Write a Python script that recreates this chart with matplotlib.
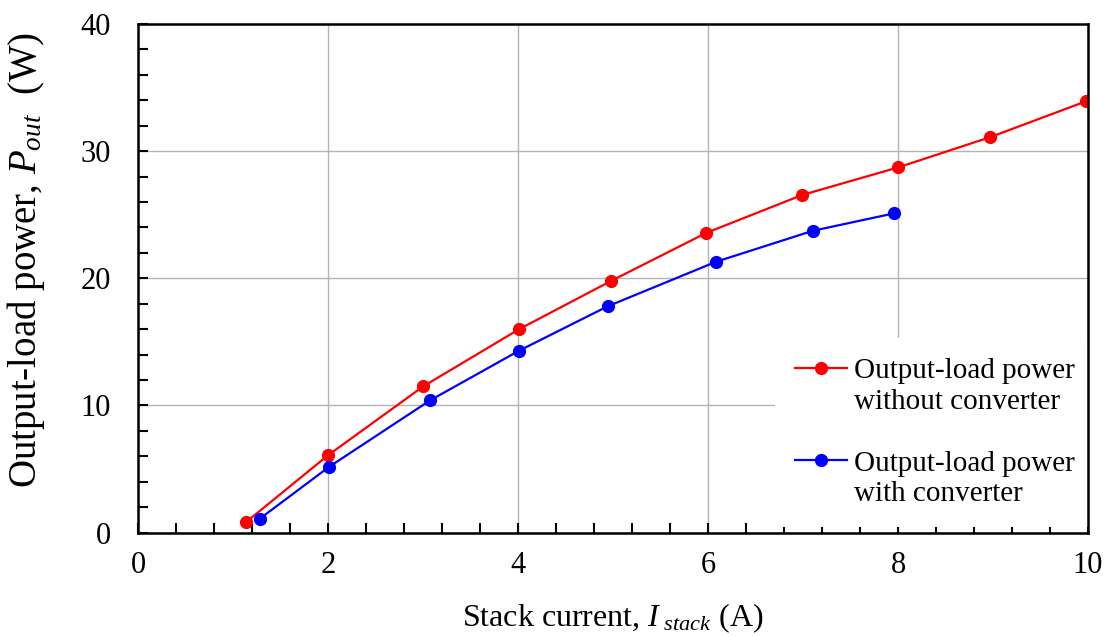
import matplotlib
matplotlib.use("Agg")
import matplotlib.pyplot as plt
from matplotlib.ticker import MultipleLocator
from matplotlib.lines import Line2D

plt.rcParams['font.family'] = ['Liberation Serif', 'DejaVu Serif']
plt.rcParams['mathtext.fontset'] = 'custom'
plt.rcParams['mathtext.rm'] = 'Liberation Serif'
plt.rcParams['mathtext.it'] = 'Liberation Serif:italic'

# Data
i_without = [1.13, 2.0, 3.0, 4.01, 4.98, 5.98, 6.99, 8.0, 8.97, 9.98]
p_without = [0.8, 6.1, 11.5, 16.0, 19.8, 23.57, 26.55, 28.72, 31.1, 33.92]
i_with = [1.28, 2.01, 3.07, 4.01, 4.94, 6.08, 7.10, 7.96]
p_with = [1.1, 5.18, 10.39, 14.31, 17.79, 21.29, 23.73, 25.11]

label_without = ["Output-load power", "without converter"]
label_with = ["Output-load power", "with converter"]

red = '#ff0000'
blue = '#0000ff'

fig = plt.figure(figsize=(11.07, 6.37), dpi=100)
ax = fig.add_axes([0.1251, 0.164, 0.8577, 0.7983])

l1, = ax.plot(i_without, p_without, color=red, lw=1.6, marker='o', ms=8.5, zorder=3)
l2, = ax.plot(i_with, p_with, color=blue, lw=1.6, marker='o', ms=8.5, zorder=3)

ax.set_xlim(0, 10)
ax.set_ylim(0, 40)
ax.xaxis.set_major_locator(MultipleLocator(2))
ax.xaxis.set_minor_locator(MultipleLocator(0.4))
ax.yaxis.set_major_locator(MultipleLocator(10))
ax.yaxis.set_minor_locator(MultipleLocator(2))
ax.grid(True, which='major', color='#b4b4b4', lw=1.0, zorder=0)
ax.set_axisbelow(True)

ax.tick_params(which='both', direction='in', top=False, right=False,
               labelsize=22, width=1.5, length=7)
ax.tick_params(axis='x', which='both', pad=13)
ax.tick_params(axis='y', which='both', pad=20)
for s in ax.spines.values():
    s.set_linewidth(1.8)
    s.set_zorder(4)

ax.set_xlabel(r"Stack current, $I_{\,\,stack}$ (A)", fontsize=23, labelpad=16)
ax.set_ylabel(r"Output-load power, $P_{out}$  (W)", fontsize=28)
ax.yaxis.set_label_coords(-0.0968, 0.536)

blank = Line2D([], [], linestyle='none', marker=None)
handles = [l1, blank, blank, l2, blank]
labels = [label_without[0], label_without[1], " ", label_with[0], label_with[1]]
leg = ax.legend(handles, labels, loc='upper left', bbox_to_anchor=(0.6705, 0.3825),
                fontsize=21, frameon=True, fancybox=False, edgecolor='none',
                facecolor='white', framealpha=1.0, labelspacing=0.15,
                handlelength=1.8, handletextpad=0.24, borderpad=0.68,
                borderaxespad=0.0, numpoints=1)
leg.set_zorder(2.6)

fig.savefig("out.png", dpi=100)
